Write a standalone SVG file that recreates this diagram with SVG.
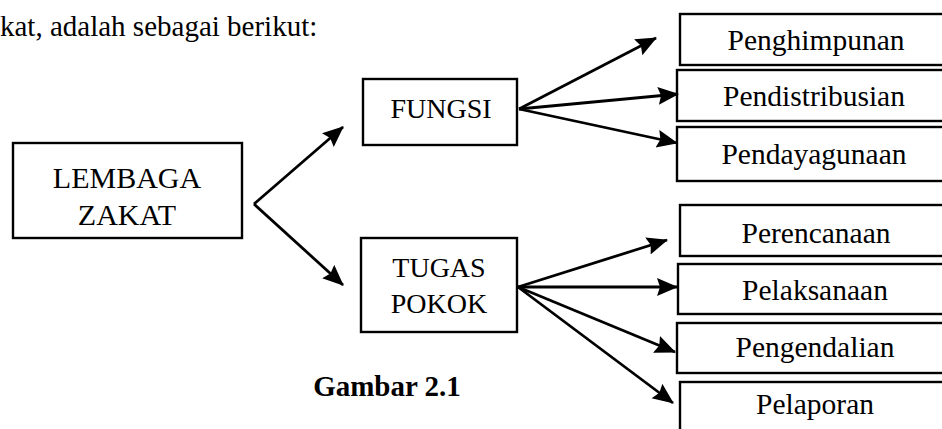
<svg xmlns="http://www.w3.org/2000/svg" width="942" height="429" viewBox="0 0 942 429">
<style>
text{font-family:"Liberation Serif","Times New Roman",serif;fill:#000}
.box{fill:#fff;stroke:#000;stroke-width:2.4}
.t{font-size:28px;text-anchor:middle}
.r{font-size:29.5px}
.b{font-weight:bold}
.c{fill:none;stroke:#000;stroke-width:2.8;marker-end:url(#ah)}
</style>
<defs>
<marker id="ah" markerUnits="userSpaceOnUse" markerWidth="24" markerHeight="20" refX="20" refY="9" orient="auto" viewBox="0 0 24 20">
<path d="M0,0 L21,9 L0,18 L3,9 z" fill="#000"/>
</marker>
</defs>
<text x="0" y="36" font-size="29">kat, adalah sebagai berikut:</text>
<g id="lembaga">
<rect class="box" x="13" y="143" width="229" height="95"/>
<text class="t" x="127" y="188" style="font-size:30px">LEMBAGA</text>
<text class="t" x="127" y="225" style="font-size:30px">ZAKAT</text>
</g>
<g id="fungsi">
<rect class="box" x="363" y="79" width="154" height="66"/>
<text class="t" x="441" y="118">FUNGSI</text>
</g>
<g id="tugas">
<rect class="box" x="361" y="238" width="156" height="94"/>
<text class="t" x="439" y="277">TUGAS</text>
<text class="t" x="439" y="313">POKOK</text>
</g>
<g id="penghimpunan">
<rect class="box" x="680" y="14" width="280" height="51"/>
<text class="t r" x="816" y="50">Penghimpunan</text>
</g>
<g id="pendistribusian">
<rect class="box" x="677" y="70" width="283" height="51"/>
<text class="t r" x="814" y="106">Pendistribusian</text>
</g>
<g id="pendayagunaan">
<rect class="box" x="677" y="127" width="283" height="54"/>
<text class="t r" x="814" y="164">Pendayagunaan</text>
</g>
<g id="perencanaan">
<rect class="box" x="680" y="205" width="280" height="51"/>
<text class="t r" x="816" y="243">Perencanaan</text>
</g>
<g id="pelaksanaan">
<rect class="box" x="678" y="264" width="282" height="50"/>
<text class="t r" x="815" y="300">Pelaksanaan</text>
</g>
<g id="pengendalian">
<rect class="box" x="677" y="323" width="283" height="50"/>
<text class="t r" x="815" y="357">Pengendalian</text>
</g>
<g id="pelaporan">
<rect class="box" x="680" y="382" width="280" height="60"/>
<text class="t r" x="815" y="414">Pelaporan</text>
</g>
<text class="t b" x="387" y="396" style="font-size:29px">Gambar 2.1</text>
<g id="connectors">
<path class="c" d="M254,204 L343,127"/>
<path class="c" d="M254,204 L343,285"/>
<path class="c" d="M519,109 L656,38"/>
<path class="c" d="M519,109 L678,94"/>
<path class="c" d="M519,109 L677,143"/>
<path class="c" d="M518,287 L667,240"/>
<path class="c" d="M518,287 L677,287"/>
<path class="c" d="M518,287 L675,352"/>
<path class="c" d="M518,287 L673,403"/>
</g>
</svg>
